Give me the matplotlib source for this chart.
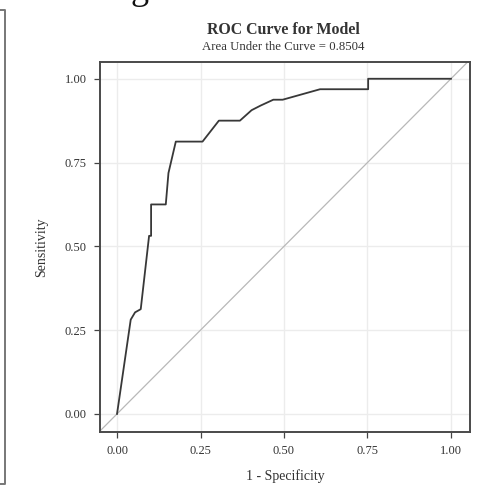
import matplotlib
matplotlib.use("Agg")
import matplotlib.pyplot as plt
from matplotlib.lines import Line2D

# ROC points (1 - specificity, sensitivity)
fpr = [0.0, 0.041, 0.054, 0.071, 0.096, 0.102, 0.102, 0.146, 0.154, 0.176,
       0.256, 0.305, 0.368, 0.403, 0.430, 0.468, 0.496, 0.608, 0.752, 0.752, 1.0]
tpr = [0.0, 0.28125, 0.303, 0.3125, 0.53125, 0.53125, 0.625, 0.625, 0.71875, 0.8125,
       0.8125, 0.875, 0.875, 0.90625, 0.92, 0.9375, 0.9375, 0.96875, 0.96875, 1.0, 1.0]
auc = 0.8504
ticks = [0.0, 0.25, 0.50, 0.75, 1.00]
tick_labels = ["0.00", "0.25", "0.50", "0.75", "1.00"]

plt.rcParams['font.family'] = ['Liberation Serif', 'DejaVu Serif']

fig = plt.figure(figsize=(4.84, 4.91), dpi=100)
ax = fig.add_axes([100/484, 59/491, 370/484, 370/491])

ax.axline((0, 0), slope=1, color='#b8b8b8', lw=0.9, zorder=2)
ax.plot(fpr, tpr, color='#383838', lw=1.3, zorder=3)

ax.set_xlim(-0.051, 1.057)
ax.set_ylim(-0.054, 1.05)
ax.set_xticks(ticks)
ax.set_xticklabels(tick_labels)
ax.set_yticks(ticks)
ax.set_yticklabels(tick_labels)
ax.grid(True, color='#ececec', lw=1.0, zorder=0)
ax.set_axisbelow(True)
ax.tick_params(direction='out', length=4.5, width=0.9, color='#444444',
               labelsize=8.9, labelcolor='#333333', pad=5)
for s in ax.spines.values():
    s.set_color('#4a4a4a')
    s.set_linewidth(1.4)

ax.set_xlabel('1 - Specificity', fontsize=10, color='#333333', labelpad=9)
ax.set_ylabel('Sensitivity', fontsize=10, color='#333333', labelpad=12)

fig.text(283/484, 1 - 30/491, 'ROC Curve for Model', ha='center', va='center',
         fontsize=11.4, fontweight='bold', color='#333333')
fig.text(283/484, 1 - 47/491, 'Area Under the Curve = %.4f' % auc, ha='center',
         va='center', fontsize=9.2, color='#333333')

# tail of a larger heading cut off at the top edge
fig.text(140/484, 1 + 1/491, 'g', ha='center', va='baseline', fontsize=26,
         color='#111111')

# left panel border
fig.add_artist(Line2D([0, 5/484, 5/484, 0], [1 - 10/491, 1 - 10/491, 7/491, 7/491],
                      transform=fig.transFigure, color='#777777', lw=1.4))

fig.savefig('out.png', dpi=100)
